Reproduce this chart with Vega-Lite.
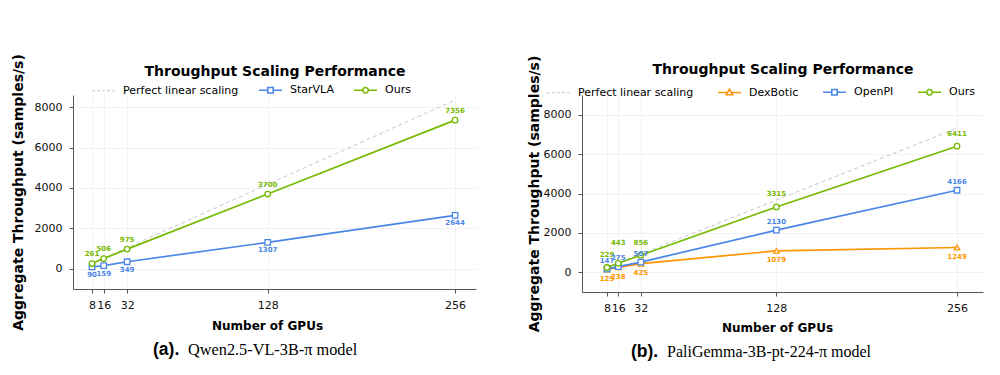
{
  "$schema": "https://vega.github.io/schema/vega-lite/v6.json",
  "padding": {"left": 11, "top": 53, "right": 5, "bottom": 5},
  "background": "white",
  "datasets": {
    "a": [
      {"gpus": 8, "series": "Perfect linear scaling", "value": 261},
      {"gpus": 16, "series": "Perfect linear scaling", "value": 522},
      {"gpus": 32, "series": "Perfect linear scaling", "value": 1044},
      {"gpus": 128, "series": "Perfect linear scaling", "value": 4176},
      {"gpus": 256, "series": "Perfect linear scaling", "value": 8352},
      {"gpus": 8, "series": "StarVLA", "value": 90},
      {"gpus": 16, "series": "StarVLA", "value": 159},
      {"gpus": 32, "series": "StarVLA", "value": 349},
      {"gpus": 128, "series": "StarVLA", "value": 1307},
      {"gpus": 256, "series": "StarVLA", "value": 2644},
      {"gpus": 8, "series": "Ours", "value": 261},
      {"gpus": 16, "series": "Ours", "value": 506},
      {"gpus": 32, "series": "Ours", "value": 975},
      {"gpus": 128, "series": "Ours", "value": 3700},
      {"gpus": 256, "series": "Ours", "value": 7356}
    ],
    "b": [
      {"gpus": 8, "series": "Perfect linear scaling", "value": 229},
      {"gpus": 16, "series": "Perfect linear scaling", "value": 458},
      {"gpus": 32, "series": "Perfect linear scaling", "value": 916},
      {"gpus": 128, "series": "Perfect linear scaling", "value": 3664},
      {"gpus": 256, "series": "Perfect linear scaling", "value": 7328},
      {"gpus": 8, "series": "DexBotic", "value": 129},
      {"gpus": 16, "series": "DexBotic", "value": 238},
      {"gpus": 32, "series": "DexBotic", "value": 425},
      {"gpus": 128, "series": "DexBotic", "value": 1079},
      {"gpus": 256, "series": "DexBotic", "value": 1249},
      {"gpus": 8, "series": "OpenPI", "value": 147},
      {"gpus": 16, "series": "OpenPI", "value": 275},
      {"gpus": 32, "series": "OpenPI", "value": 507},
      {"gpus": 128, "series": "OpenPI", "value": 2130},
      {"gpus": 256, "series": "OpenPI", "value": 4166},
      {"gpus": 8, "series": "Ours", "value": 229},
      {"gpus": 16, "series": "Ours", "value": 443},
      {"gpus": 32, "series": "Ours", "value": 856},
      {"gpus": 128, "series": "Ours", "value": 3315},
      {"gpus": 256, "series": "Ours", "value": 6411}
    ]
  },
  "hconcat": [
    {
      "vconcat": [
        {
          "vconcat": [
            {
              "width": 403,
              "height": 194,
              "data": {"name": "a"},
              "resolve": {"axis": {"x": "independent"}},
              "encoding": {
                "x": {"field": "gpus", "type": "quantitative", "scale": {"domain": [-5, 270.3], "nice": false, "zero": false}, "axis": null},
                "y": {"field": "value", "type": "quantitative", "scale": {"domain": [-1000, 8600], "nice": false, "zero": false},
                  "axis": {"values": [0, 2000, 4000, 6000, 8000], "format": "d", "grid": true, "labelPadding": 7, "title": "Aggregate Throughput (samples/s)", "titleFontSize": 14, "titlePadding": 9}}
              },
              "layer": [
                {
                  "transform": [{"filter": "datum.series === 'Perfect linear scaling'"}],
                  "mark": {"type": "line", "color": "#c5c5d0", "strokeWidth": 1, "strokeDash": [4, 3]},
                  "encoding": {
                    "x": {"field": "gpus", "type": "quantitative", "scale": {"domain": [-5, 270.3], "nice": false, "zero": false},
                      "axis": {"orient": "top", "labels": false, "ticks": false, "domain": false, "grid": false, "title": "Throughput Scaling Performance", "titleFontSize": 14, "titlePadding": 17}}
                  }
                },
                {
                  "transform": [{"filter": "datum.series !== 'Perfect linear scaling'"}],
                  "mark": {"type": "line", "strokeWidth": 1.7},
                  "encoding": {
                    "x": {"field": "gpus", "type": "quantitative", "scale": {"domain": [-5, 270.3], "nice": false, "zero": false},
                      "axis": {"orient": "bottom", "values": [8, 16, 32, 128, 256], "labelOverlap": false, "labelBound": false, "grid": true, "labelPadding": 6, "title": "Number of GPUs", "titleFontSize": 12, "titlePadding": 10, "titleX": 194}},
                    "color": {"field": "series", "type": "nominal",
                      "scale": {"domain": ["Perfect linear scaling", "StarVLA", "Ours"], "range": ["#c5c5d0", "#4a86e8", "#76b900"]},
                      "legend": {"orient": "none", "legendX": 25, "legendY": -10.5, "direction": "horizontal", "title": null, "padding": 0,
                        "symbolSize": 529, "labelFont": "DejaVu Sans", "labelFontSize": 11, "labelColor": "#000", "labelOffset": 14, "columnPadding": 16,
                        "encode": {"symbols": {"update": {
                          "shape": {"signal": "datum.value === 'Ours' ? 'M-1,0L-0.25,0M0.25,0L1,0M0.24,0A0.24,0.24 0 1,1 -0.24,0A0.24,0.24 0 1,1 0.24,0' : datum.value === 'Perfect linear scaling' ? 'M-1,0L1,0' : 'M-1,0L-0.25,0M0.25,0L1,0M-0.24,-0.24L0.24,-0.24L0.24,0.24L-0.24,0.24Z'"},
                          "strokeDash": {"signal": "datum.value === 'Perfect linear scaling' ? [3, 2] : [1, 0]"},
                          "strokeWidth": {"signal": "datum.value === 'Perfect linear scaling' ? 1 : 1.6"},
                          "fill": {"value": "white"},
                          "fillOpacity": {"value": 1}
                        }}}
                      }
                    }
                  }
                },
                {
                  "transform": [{"filter": "datum.series !== 'Perfect linear scaling'"}],
                  "mark": {"type": "point", "filled": true, "fill": "white", "strokeWidth": 1.3, "size": 30, "opacity": 1},
                  "encoding": {
                    "shape": {"field": "series", "type": "nominal", "scale": {"domain": ["StarVLA", "Ours"], "range": ["square", "circle"]}, "legend": null},
                    "stroke": {"field": "series", "type": "nominal", "scale": {"domain": ["StarVLA", "Ours"], "range": ["#4a86e8", "#76b900"]}, "legend": null}
                  }
                },
                {
                  "transform": [{"filter": "datum.series === 'Ours'"}],
                  "mark": {"type": "text", "color": "#76b900", "font": "DejaVu Sans", "fontWeight": "bold", "fontSize": 7, "dy": -9.5, "baseline": "middle"},
                  "encoding": {"text": {"field": "value", "type": "quantitative", "format": "d"}}
                },
                {
                  "transform": [{"filter": "datum.series === 'StarVLA'"}],
                  "mark": {"type": "text", "color": "#4a86e8", "font": "DejaVu Sans", "fontWeight": "bold", "fontSize": 7, "dy": 8, "baseline": "middle"},
                  "encoding": {"text": {"field": "value", "type": "quantitative", "format": "d"}}
                }
              ]
            }
          ],
          "title": {"text": "Qwen2.5-VL-3B-π model", "orient": "bottom", "anchor": "start", "frame": "group", "font": "Liberation Serif", "fontSize": 16.3, "fontWeight": "normal", "color": "#000", "dx": 115, "offset": 11}
        }
      ],
      "title": {"text": "(a).", "orient": "bottom", "anchor": "start", "frame": "group", "font": "Liberation Sans", "fontSize": 17.5, "fontWeight": "bold", "color": "#000", "dx": 80, "dy": -17, "offset": 0}
    },
    {
      "vconcat": [
        {
          "vconcat": [
            {
              "width": 401,
              "height": 197,
              "data": {"name": "b"},
              "resolve": {"axis": {"x": "independent"}},
              "encoding": {
                "x": {"field": "gpus", "type": "quantitative", "scale": {"domain": [-9.7, 274.4], "nice": false, "zero": false}, "axis": null},
                "y": {"field": "value", "type": "quantitative", "scale": {"domain": [-1019, 9019], "nice": false, "zero": false},
                  "axis": {"values": [0, 2000, 4000, 6000, 8000], "format": "d", "grid": true, "labelPadding": 7, "title": "Aggregate Throughput (samples/s)", "titleFontSize": 14, "titlePadding": 2}}
              },
              "layer": [
                {
                  "transform": [{"filter": "datum.series === 'Perfect linear scaling'"}],
                  "mark": {"type": "line", "color": "#c5c5d0", "strokeWidth": 1, "strokeDash": [4, 3]},
                  "encoding": {
                    "x": {"field": "gpus", "type": "quantitative", "scale": {"domain": [-9.7, 274.4], "nice": false, "zero": false},
                      "axis": {"orient": "top", "labels": false, "ticks": false, "domain": false, "grid": false, "title": "Throughput Scaling Performance", "titleFontSize": 14, "titlePadding": 19}}
                  }
                },
                {
                  "transform": [{"filter": "datum.series !== 'Perfect linear scaling'"}],
                  "mark": {"type": "line", "strokeWidth": 1.7},
                  "encoding": {
                    "x": {"field": "gpus", "type": "quantitative", "scale": {"domain": [-9.7, 274.4], "nice": false, "zero": false},
                      "axis": {"orient": "bottom", "values": [8, 16, 32, 128, 256], "labelOverlap": false, "labelBound": false, "grid": true, "labelPadding": 6, "title": "Number of GPUs", "titleFontSize": 12, "titlePadding": 9, "titleX": 195}},
                    "color": {"field": "series", "type": "nominal",
                      "scale": {"domain": ["Perfect linear scaling", "DexBotic", "OpenPI", "Ours"], "range": ["#c5c5d0", "#ff9500", "#4a86e8", "#76b900"]},
                      "legend": {"orient": "none", "legendX": -29, "legendY": -8.5, "direction": "horizontal", "title": null, "padding": 0,
                        "symbolSize": 529, "labelFont": "DejaVu Sans", "labelFontSize": 11, "labelColor": "#000", "labelOffset": 14, "columnPadding": 20,
                        "encode": {"symbols": {"update": {
                          "shape": {"signal": "datum.value === 'Ours' ? 'M-1,0L-0.25,0M0.25,0L1,0M0.24,0A0.24,0.24 0 1,1 -0.24,0A0.24,0.24 0 1,1 0.24,0' : datum.value === 'Perfect linear scaling' ? 'M-1,0L1,0' : datum.value === 'DexBotic' ? 'M-1,0L-0.17,0M0.17,0L1,0M0,-0.28L0.28,0.2L-0.28,0.2Z' : 'M-1,0L-0.25,0M0.25,0L1,0M-0.24,-0.24L0.24,-0.24L0.24,0.24L-0.24,0.24Z'"},
                          "strokeDash": {"signal": "datum.value === 'Perfect linear scaling' ? [3, 2] : [1, 0]"},
                          "strokeWidth": {"signal": "datum.value === 'Perfect linear scaling' ? 1 : 1.6"},
                          "fill": {"value": "white"},
                          "fillOpacity": {"value": 1}
                        }}}
                      }
                    }
                  }
                },
                {
                  "transform": [{"filter": "datum.series !== 'Perfect linear scaling'"}],
                  "mark": {"type": "point", "filled": true, "fill": "white", "strokeWidth": 1.3, "size": 30, "opacity": 1},
                  "encoding": {
                    "shape": {"field": "series", "type": "nominal", "scale": {"domain": ["DexBotic", "OpenPI", "Ours"], "range": ["triangle-up", "square", "circle"]}, "legend": null},
                    "stroke": {"field": "series", "type": "nominal", "scale": {"domain": ["DexBotic", "OpenPI", "Ours"], "range": ["#ff9500", "#4a86e8", "#76b900"]}, "legend": null}
                  }
                },
                {
                  "transform": [{"filter": "datum.series === 'Ours' && datum.gpus !== 16"}],
                  "mark": {"type": "text", "color": "#76b900", "font": "DejaVu Sans", "fontWeight": "bold", "fontSize": 7, "dy": -12.5, "baseline": "middle"},
                  "encoding": {"text": {"field": "value", "type": "quantitative", "format": "d"}}
                },
                {
                  "transform": [{"filter": "datum.series === 'Ours' && datum.gpus === 16"}],
                  "mark": {"type": "text", "color": "#76b900", "font": "DejaVu Sans", "fontWeight": "bold", "fontSize": 7, "dy": -20, "baseline": "middle"},
                  "encoding": {"text": {"field": "value", "type": "quantitative", "format": "d"}}
                },
                {
                  "transform": [{"filter": "datum.series === 'OpenPI'"}],
                  "mark": {"type": "text", "color": "#4a86e8", "font": "DejaVu Sans", "fontWeight": "bold", "fontSize": 7, "dy": -8.5, "baseline": "middle"},
                  "encoding": {"text": {"field": "value", "type": "quantitative", "format": "d"}}
                },
                {
                  "transform": [{"filter": "datum.series === 'DexBotic'"}],
                  "mark": {"type": "text", "color": "#ff9500", "font": "DejaVu Sans", "fontWeight": "bold", "fontSize": 7, "dy": 9.5, "baseline": "middle"},
                  "encoding": {"text": {"field": "value", "type": "quantitative", "format": "d"}}
                }
              ]
            }
          ],
          "title": {"text": "PaliGemma-3B-pt-224-π model", "orient": "bottom", "anchor": "start", "frame": "group", "font": "Liberation Serif", "fontSize": 16, "fontWeight": "normal", "color": "#000", "dx": 85, "offset": 11}
        }
      ],
      "title": {"text": "(b).", "orient": "bottom", "anchor": "start", "frame": "group", "font": "Liberation Sans", "fontSize": 17.5, "fontWeight": "bold", "color": "#000", "dx": 49, "dy": -17, "offset": 0}
    }
  ],
  "spacing": 51,
  "resolve": {
    "scale": {"color": "independent", "shape": "independent", "stroke": "independent", "x": "independent", "y": "independent"},
    "legend": {"color": "independent"}
  },
  "config": {
    "view": {"stroke": null},
    "font": "DejaVu Sans",
    "axis": {"domainColor": "#555", "tickColor": "#555", "gridColor": "#efefef", "gridWidth": 0.8, "labelFont": "DejaVu Sans", "labelFontSize": 11, "labelColor": "#111", "titleFont": "DejaVu Sans", "titleColor": "#000", "titleFontWeight": "bold", "tickSize": 4}
  }
}
